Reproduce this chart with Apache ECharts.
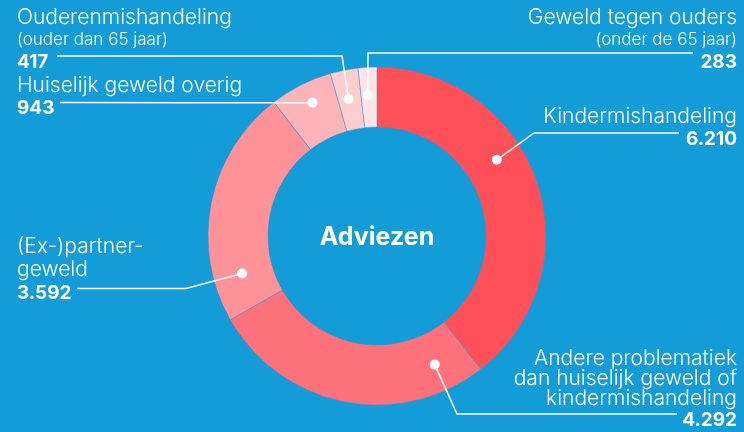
<!DOCTYPE html>
<html>
<head>
<meta charset="utf-8">
<script src="https://cdn.jsdelivr.net/npm/echarts@6/dist/echarts.min.js"></script>
<style>
  html, body { margin: 0; padding: 0; background: #139cd7; }
  #donut { width: 744px; height: 432px; }
</style>
</head>
<body>
<div id="donut"></div>
<script>
// data
const names = ['Kindermishandeling', 'Andere problematiek dan huiselijk geweld of kindermishandeling', '(Ex-)partnergeweld', 'Huiselijk geweld overig', 'Ouderenmishandeling', 'Geweld tegen ouders'];
const nameLines = [
  ['Kindermishandeling'],
  ['Andere problematiek', 'dan huiselijk geweld of', 'kindermishandeling'],
  ['(Ex-)partner-', 'geweld'],
  ['Huiselijk geweld overig'],
  ['Ouderenmishandeling'],
  ['Geweld tegen ouders']
];
const subLabels = ['', '', '', '', '(ouder dan 65 jaar)', '(onder de 65 jaar)'];
const values = [6210, 4292, 3592, 943, 417, 283];
const colors = ['#fd5059', '#fd717b', '#fd9299', '#fdb4b9', '#fdcdd0', '#fde3e5'];

// layout of labels / leader lines (pixels), not data
const CX = 377, CY = 236, R_IN = 109, R_OUT = 169;
const layout = [
  { side: 'right', x: 737, top: 105, frac: 0.405, r: 142, bend: [534, 133], end: [679, 133] },
  { side: 'right', x: 737, top: 349, frac: 0.14, r: 141, bend: [457, 414], end: [677, 414], lh: 20 },
  { side: 'left', x: 17, top: 235.5, frac: 0.173, r: 140, bend: [186, 288.5], end: [77, 288.5] },
  { side: 'left', x: 17, top: 74, frac: 0.546, r: 148, end: [60, 102.5] },
  { side: 'left', x: 17, top: 6, frac: 0.45, r: 140, bend: [342, 56], end: [57, 56] },
  { side: 'right', x: 737, top: 6, frac: 0.42, r: 141, bend: [368, 53], end: [693, 53] }
];

const total = values.reduce((a, b) => a + b, 0);
const starts = values.map((v, i) => values.slice(0, i).reduce((a, b) => a + b, 0));
const anchorVal = values.map((v, i) => starts[i] + v * layout[i].frac);

function fmt(v) {
  return String(v).replace(/\B(?=(\d{3})+(?!\d))/g, '.');
}

const FONT = 'Inter';

let chart = echarts.init(document.getElementById('donut'));
chart.setOption({
  backgroundColor: '#139cd7',
  animation: false,
  title: {
    text: 'Adviezen',
    left: CX,
    top: CY + 1,
    padding: 0,
    textAlign: 'center',
    textVerticalAlign: 'middle',
    textStyle: { color: '#fff', fontSize: 25, fontWeight: 'bold', fontFamily: FONT }
  },
  polar: { center: [CX, CY], radius: R_OUT },
  angleAxis: { type: 'value', min: 0, max: total, startAngle: 90, clockwise: true, show: false },
  radiusAxis: { type: 'value', min: 0, max: R_OUT, show: false },
  series: [
    {
      type: 'pie',
      center: [CX, CY],
      radius: [R_IN, R_OUT],
      startAngle: 90,
      clockwise: true,
      avoidLabelOverlap: false,
      silent: true,
      itemStyle: { borderColor: 'rgba(70,140,200,0.6)', borderWidth: 0.8 },
      label: {
        show: true,
        position: 'outside',
        color: '#fff',
        fontFamily: FONT,
        formatter: (p) => {
          const i = p.dataIndex;
          const key = layout[i].lh ? 'n2' : 'n';
          let s = nameLines[i].map(t => '{' + key + '|' + t + '}').join('\n');
          if (subLabels[i]) s += '\n{s|' + subLabels[i] + '}';
          return s + '\n{v|' + fmt(values[i]) + '}';
        },
        rich: {
          n: { fontSize: 21, lineHeight: 23, fontWeight: 300, color: '#fff', fontFamily: FONT },
          n2: { fontSize: 21, lineHeight: 20, fontWeight: 300, color: '#fff', fontFamily: FONT },
          s: { fontSize: 17, lineHeight: 22, fontWeight: 300, color: '#fff', fontFamily: FONT },
          v: { fontSize: 19, lineHeight: 23, fontWeight: 'bold', color: '#fff', fontFamily: FONT }
        }
      },
      labelLine: { show: false },
      labelLayout: (params) => {
        const L = layout[params.dataIndex];
        return { x: L.x, y: L.top, align: L.side, verticalAlign: 'top' };
      },
      data: names.map((n, i) => ({ name: n, value: values[i], itemStyle: { color: colors[i] } }))
    },
    {
      // leader lines with their dots, anchored through the polar scales
      type: 'custom',
      coordinateSystem: 'polar',
      silent: true,
      z: 5,
      data: anchorVal.map((v, i) => [layout[i].r, v]),
      renderItem: (params, api) => {
        const i = params.dataIndex;
        const L = layout[i];
        const p = api.coord([api.value(0), api.value(1)]);
        const bend = L.bend || [(p[0] + L.end[0]) / 2, (p[1] + L.end[1]) / 2];
        return {
          type: 'group',
          children: [
            { type: 'polyline', shape: { points: [p, bend, L.end] }, style: { stroke: '#fff', lineWidth: 1.5, fill: null } },
            { type: 'circle', shape: { cx: p[0], cy: p[1], r: 5 }, style: { fill: '#fff' } }
          ]
        };
      }
    }
  ]
});
</script>
</body>
</html>
